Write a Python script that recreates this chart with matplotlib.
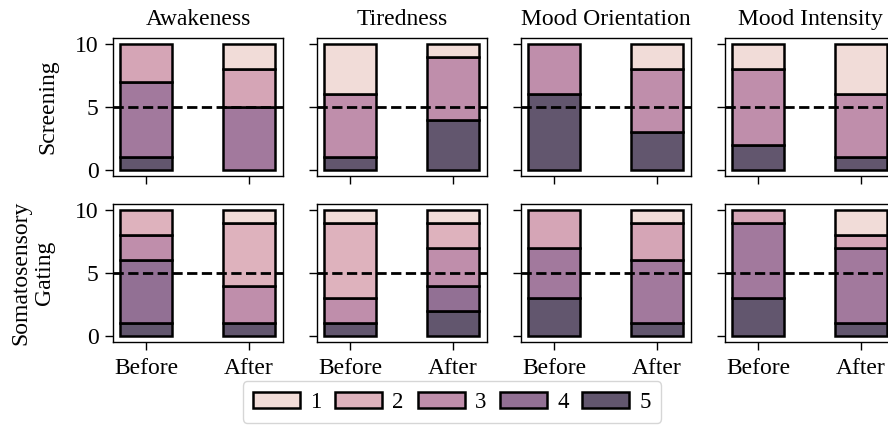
import numpy as np
import matplotlib
matplotlib.use("Agg")
import matplotlib.pyplot as plt
from matplotlib.patches import Patch
import seaborn as sns

# rating levels, stacked from 5 (bottom) up to 1 (top)
levels = [1, 2, 3, 4, 5]
measures = ["Awakeness", "Tiredness", "Mood Orientation", "Mood Intensity"]
conditions = ["Screening", "Somatosensory\nGating"]
times = ["Before", "After"]

# counts per level (1..5) for Before / After
screening_before = [
    [0, 3, 0, 6, 1],
    [4, 0, 5, 0, 1],
    [0, 0, 4, 0, 6],
    [2, 0, 6, 0, 2],
]
screening_after = [
    [2, 3, 0, 5, 0],
    [1, 0, 5, 0, 4],
    [2, 0, 5, 0, 3],
    [4, 0, 5, 0, 1],
]
gating_before = [
    [0, 2, 2, 5, 1],
    [1, 6, 2, 0, 1],
    [0, 3, 0, 4, 3],
    [0, 1, 0, 6, 3],
]
gating_after = [
    [1, 5, 3, 0, 1],
    [1, 2, 3, 2, 2],
    [1, 3, 0, 5, 1],
    [2, 1, 0, 6, 1],
]

plt.rcParams.update({
    'font.family': ['Liberation Serif', 'DejaVu Serif'],
    'font.size': 17,
    'axes.linewidth': 1.0,
    'xtick.major.size': 5.5,
    'ytick.major.size': 5.5,
    'xtick.major.width': 1.0,
    'ytick.major.width': 1.0,
    'xtick.major.pad': 6,
    'ytick.major.pad': 5,
})

ALPHA = 0.75
fig = plt.figure(figsize=(8.88, 4.25), dpi=100)

data = [(screening_before, screening_after), (gating_before, gating_after)]
row_bottoms = [0.5859, 0.1953]
for r, (before, after) in enumerate(data):
    for c, name in enumerate(measures):
        ax = fig.add_axes([0.1273 + c * 0.2297, row_bottoms[r], 0.1914, 0.3247])
        counts = [before[c], after[c]]
        present = [lv for i, lv in enumerate(levels) if counts[0][i] + counts[1][i] > 0]
        pal = sns.cubehelix_palette(len(present))
        cmap = {lv: pal[k] for k, lv in enumerate(present)}
        for x, cnt in enumerate(counts):
            bottom = 0
            for i in range(len(levels) - 1, -1, -1):
                if cnt[i] == 0:
                    continue
                rgb = cmap[levels[i]]
                ax.bar(x, cnt[i], width=0.5, bottom=bottom,
                       facecolor=(*rgb, ALPHA), edgecolor='black', linewidth=1.8)
                bottom += cnt[i]
        ax.axhline(5, color='black', linestyle='--', linewidth=2, zorder=5)
        ax.set_xlim(-0.32, 1.33)
        ax.set_ylim(-0.5, 10.5)
        ax.set_yticks([0, 5, 10])
        ax.set_xticks([0, 1])
        if r == 1:
            ax.set_xticklabels(times)
        else:
            ax.set_xticklabels([])
            ax.set_title(name, fontsize=17, pad=9)
        if c == 0:
            ax.set_ylabel(conditions[r], labelpad=12 if r == 0 else 14)
        else:
            ax.set_yticklabels([])

legend_pal = sns.cubehelix_palette(len(levels))
handles = [Patch(facecolor=(*legend_pal[i], ALPHA), edgecolor='black', linewidth=1.8,
                 label=str(lv)) for i, lv in enumerate(levels)]
fig.legend(handles=handles, loc='center', bbox_to_anchor=(0.509, 0.054), ncol=5,
           fontsize=16.5, handletextpad=0.45, columnspacing=0.6, handlelength=2.05,
           borderpad=0.45)

fig.savefig("out.png", dpi=100)
